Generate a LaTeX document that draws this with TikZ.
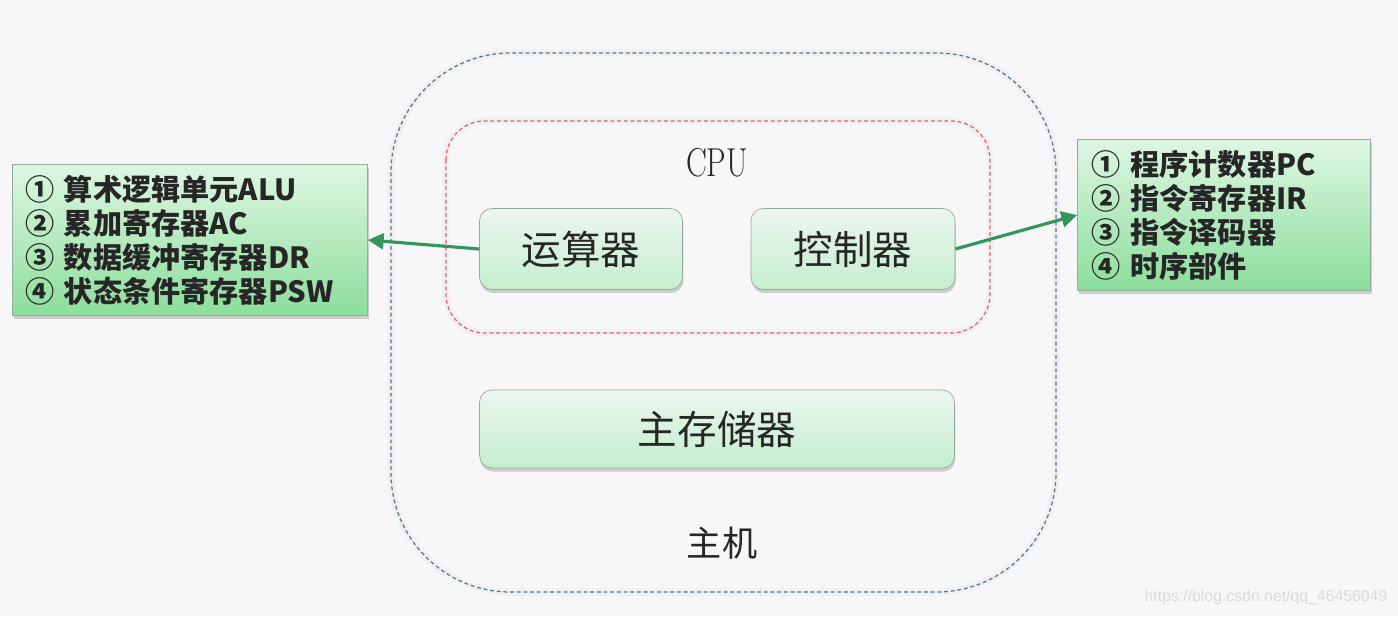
\documentclass[tikz,border=0pt]{standalone}
\usepackage{fontspec}
\usepackage{graphicx}
\usepackage{tikz}
\usetikzlibrary{arrows.meta,positioning,shadows}
\newfontfamily\cjk{Noto Sans CJK SC}
\newfontfamily\wmfont{Liberation Sans}
\definecolor{bgpaper}{RGB}{247,247,249}
\definecolor{hostblue}{RGB}{88,116,146}
\definecolor{cpured}{RGB}{222,96,110}
\definecolor{unittop}{RGB}{236,246,240}
\definecolor{unitbot}{RGB}{196,238,206}
\definecolor{listtop}{RGB}{222,246,226}
\definecolor{listbot}{RGB}{140,222,156}
\definecolor{linkgreen}{RGB}{52,150,92}
\definecolor{edgegray}{RGB}{150,170,160}

\tikzset{
  unitbox/.style={draw=edgegray,rounded corners=7pt,top color=unittop,bottom color=unitbot,
    drop shadow={shadow xshift=0.5pt,shadow yshift=-2pt,opacity=0.35},
    font=\cjk\fontsize{22.5pt}{26pt}\selectfont,text=black!85,inner sep=0pt},
  listbox/.style={draw=edgegray,top color=listtop,bottom color=listbot,
    drop shadow={shadow xshift=1pt,shadow yshift=-2pt,opacity=0.35},
    font=\cjk\bfseries\fontsize{16.6pt}{19.4pt}\selectfont,text=black!85,
    align=left,anchor=center,inner sep=0pt},
  link/.style={-{Triangle[length=9pt,width=9pt]},linkgreen,line width=1.8pt}
}

\begin{document}
\begin{tikzpicture}[x=0.02cm,y=-0.02cm]
  \fill[bgpaper] (0,0) rectangle (1398,616);
  \useasboundingbox (0,0) rectangle (1398,616);

  % host
  \draw[gray!12,line width=4pt,rounded corners=68pt] (391,53) rectangle (1056,592);
  \draw[hostblue,dash pattern=on 2.2pt off 1.6pt,line width=0.7pt,rounded corners=68pt]
    (391,53) rectangle (1056,592);
  \node[font=\cjk\fontsize{20pt}{23pt}\selectfont,text=black!85] (host) at (722,543) {主机};

  % CPU
  \draw[gray!12,line width=4pt,rounded corners=22pt] (446,121) rectangle (990,333);
  \draw[cpured,dash pattern=on 2.2pt off 1.6pt,line width=0.7pt,rounded corners=22pt]
    (446,121) rectangle (990,333);
  \node[font=\fontsize{23pt}{26pt}\selectfont,text=black!85] (cpu) at (717,163)
    {\scalebox{0.77}[1]{CPU}};
  \node[unitbox,minimum width=4.06cm,minimum height=1.62cm] (alu) at (581,249) {运算器};
  \node[unitbox,minimum width=4.08cm,minimum height=1.62cm] (ctrl) at (853,249) {控制器};

  % memory
  \node[unitbox,minimum width=9.5cm,minimum height=1.56cm] (mem) at (717,429) {主存储器};

  % lists
  \node[listbox,minimum width=7.1cm,minimum height=3.02cm,text width=6.6cm] (alulist) at (190,240)
    {① 算术逻辑单元ALU\\② 累加寄存器AC\\③ 数据缓冲寄存器DR\\④ 状态条件寄存器PSW};
  \node[listbox,minimum width=5.86cm,minimum height=3.02cm,text width=5.3cm] (ctrllist) at (1224,215)
    {① 程序计数器PC\\② 指令寄存器IR\\③ 指令译码器\\④ 时序部件};

  \draw[link] (alu.west) -- (alulist.east);
  \draw[link] (ctrl.east) -- (ctrllist.west);

  \node[font=\wmfont\fontsize{9pt}{10pt}\selectfont,text=gray!30] (mark) at (1266,597)
    {https://blog.csdn.net/qq\_46456049};
\end{tikzpicture}
\end{document}
